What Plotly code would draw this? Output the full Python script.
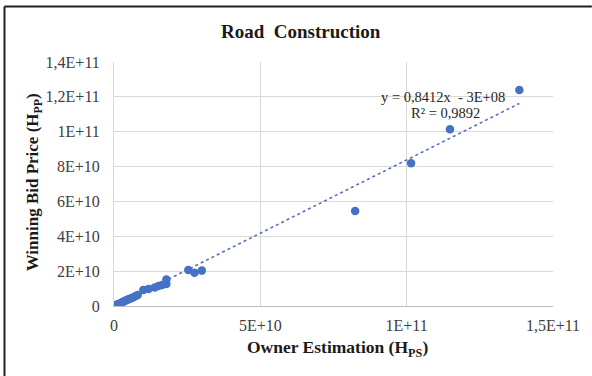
import plotly.graph_objects as go

# Owner estimation (H_PS) vs winning bid price (H_PP) for road construction packages
owner_estimation = [
    0.3e9, 0.7e9, 1.1e9, 1.5e9, 2.0e9, 2.5e9, 3.0e9, 3.5e9, 4.0e9, 4.6e9,
    5.2e9, 5.9e9, 6.6e9, 7.4e9, 8.1e9,
    10.0e9, 11.8e9, 13.9e9, 15.2e9, 16.4e9, 17.9e9, 17.9e9,
    25.4e9, 27.5e9, 30.0e9,
    82.4e9, 101.5e9, 114.8e9, 138.5e9,
]
winning_bid = [
    0.2e9, 0.5e9, 0.8e9, 1.1e9, 1.5e9, 1.9e9, 2.3e9, 2.7e9, 3.1e9, 3.6e9,
    4.0e9, 4.5e9, 5.0e9, 5.7e9, 6.3e9,
    9.2e9, 9.8e9, 10.6e9, 11.5e9, 12.0e9, 12.6e9, 15.2e9,
    20.7e9, 19.1e9, 20.3e9,
    54.5e9, 81.9e9, 101.4e9, 123.9e9,
]

# Linear trend: y = slope * x + intercept
slope = 0.8412
intercept = -3e8

x_ticks = [0, 5e10, 1e11, 1.5e11]
x_tick_text = ["0", "5E+10", "1E+11", "1,5E+11"]
y_ticks = [0, 2e10, 4e10, 6e10, 8e10, 1e11, 1.2e11, 1.4e11]
y_tick_text = ["0", "2E+10", "4E+10", "6E+10", "8E+10", "1E+11", "1,2E+11", "1,4E+11"]

serif = "Liberation Serif, Times New Roman, serif"
marker_color = "#4472C4"
grid_color = "#d9d9d9"

x_lo, x_hi = min(owner_estimation), max(owner_estimation)
trend_x = [x_lo, x_hi]
trend_y = [slope * v + intercept for v in trend_x]

fig = go.Figure()
fig.add_trace(go.Scatter(
    x=trend_x, y=trend_y, mode="lines",
    line=dict(color="#5a6fb5", width=1.6, dash="dot"),
    hoverinfo="skip", showlegend=False,
))
fig.add_trace(go.Scatter(
    x=owner_estimation, y=winning_bid, mode="markers",
    marker=dict(color=marker_color, size=8.5),
    showlegend=False,
))

# plot-area geometry in pixels, used to place text and the frame
W, H = 592, 376
ml, mr, mt, mb = 114, 37, 62, 70
pw, ph = W - ml - mr, H - mt - mb


def px(xp):
    return (xp - ml) / pw


def py(yp):
    return (H - mb - yp) / ph


tick_font = dict(family=serif, size=16, color="#404040")

fig.update_layout(
    width=W, height=H,
    margin=dict(l=ml, r=mr, t=mt, b=mb, pad=0),
    paper_bgcolor="white", plot_bgcolor="white",
    font=dict(family=serif, size=16, color="#404040"),
    xaxis=dict(
        range=[0, 1.5e11], tickvals=x_ticks, ticktext=x_tick_text,
        showgrid=True, gridcolor=grid_color, gridwidth=1,
        zeroline=False, showline=True, linecolor="#bfbfbf", linewidth=1,
        ticks="", ticklabelstandoff=5, tickfont=tick_font,
    ),
    yaxis=dict(
        range=[0, 1.4e11], tickvals=y_ticks, ticktext=y_tick_text,
        showgrid=True, gridcolor=grid_color, gridwidth=1,
        zeroline=False, showline=True, linecolor=grid_color, linewidth=1,
        ticks="", ticklabelstandoff=10, tickfont=tick_font,
    ),
    annotations=[
        dict(text="<b>Road  Construction</b>", xref="paper", yref="paper",
             x=px(302), y=py(32), xanchor="center", yanchor="middle",
             showarrow=False, font=dict(family=serif, size=19, color="#1a1a1a")),
        dict(text="<b>Owner Estimation (H<sub>PS</sub>)</b>", xref="paper", yref="paper",
             x=px(339), y=py(348), xanchor="center", yanchor="middle",
             showarrow=False, font=dict(family=serif, size=17.5, color="#1a1a1a")),
        dict(text="<b>Winning Bid Price (H<sub>PP</sub>)</b>", xref="paper", yref="paper",
             x=px(34), y=py(182), xanchor="center", yanchor="middle", textangle=-90,
             showarrow=False, font=dict(family=serif, size=17, color="#1a1a1a")),
        dict(text="y = 0,8412x  - 3E+08", xref="paper", yref="paper",
             x=px(445), y=py(97), xanchor="center", yanchor="middle",
             showarrow=False, font=dict(family=serif, size=14.5, color="#262626")),
        dict(text="R² = 0,9892", xref="paper", yref="paper",
             x=px(447), y=py(113), xanchor="center", yanchor="middle",
             showarrow=False, font=dict(family=serif, size=14.5, color="#262626")),
    ],
    shapes=[
        dict(type="line", xref="paper", yref="paper",
             x0=px(4), y0=py(6.5), x1=px(W + 2), y1=py(6.5),
             line=dict(color="#202020", width=2)),
        dict(type="line", xref="paper", yref="paper",
             x0=px(4), y0=py(6.5), x1=px(4), y1=py(H + 2),
             line=dict(color="#202020", width=2)),
    ],
)

fig.write_html("out.html")
